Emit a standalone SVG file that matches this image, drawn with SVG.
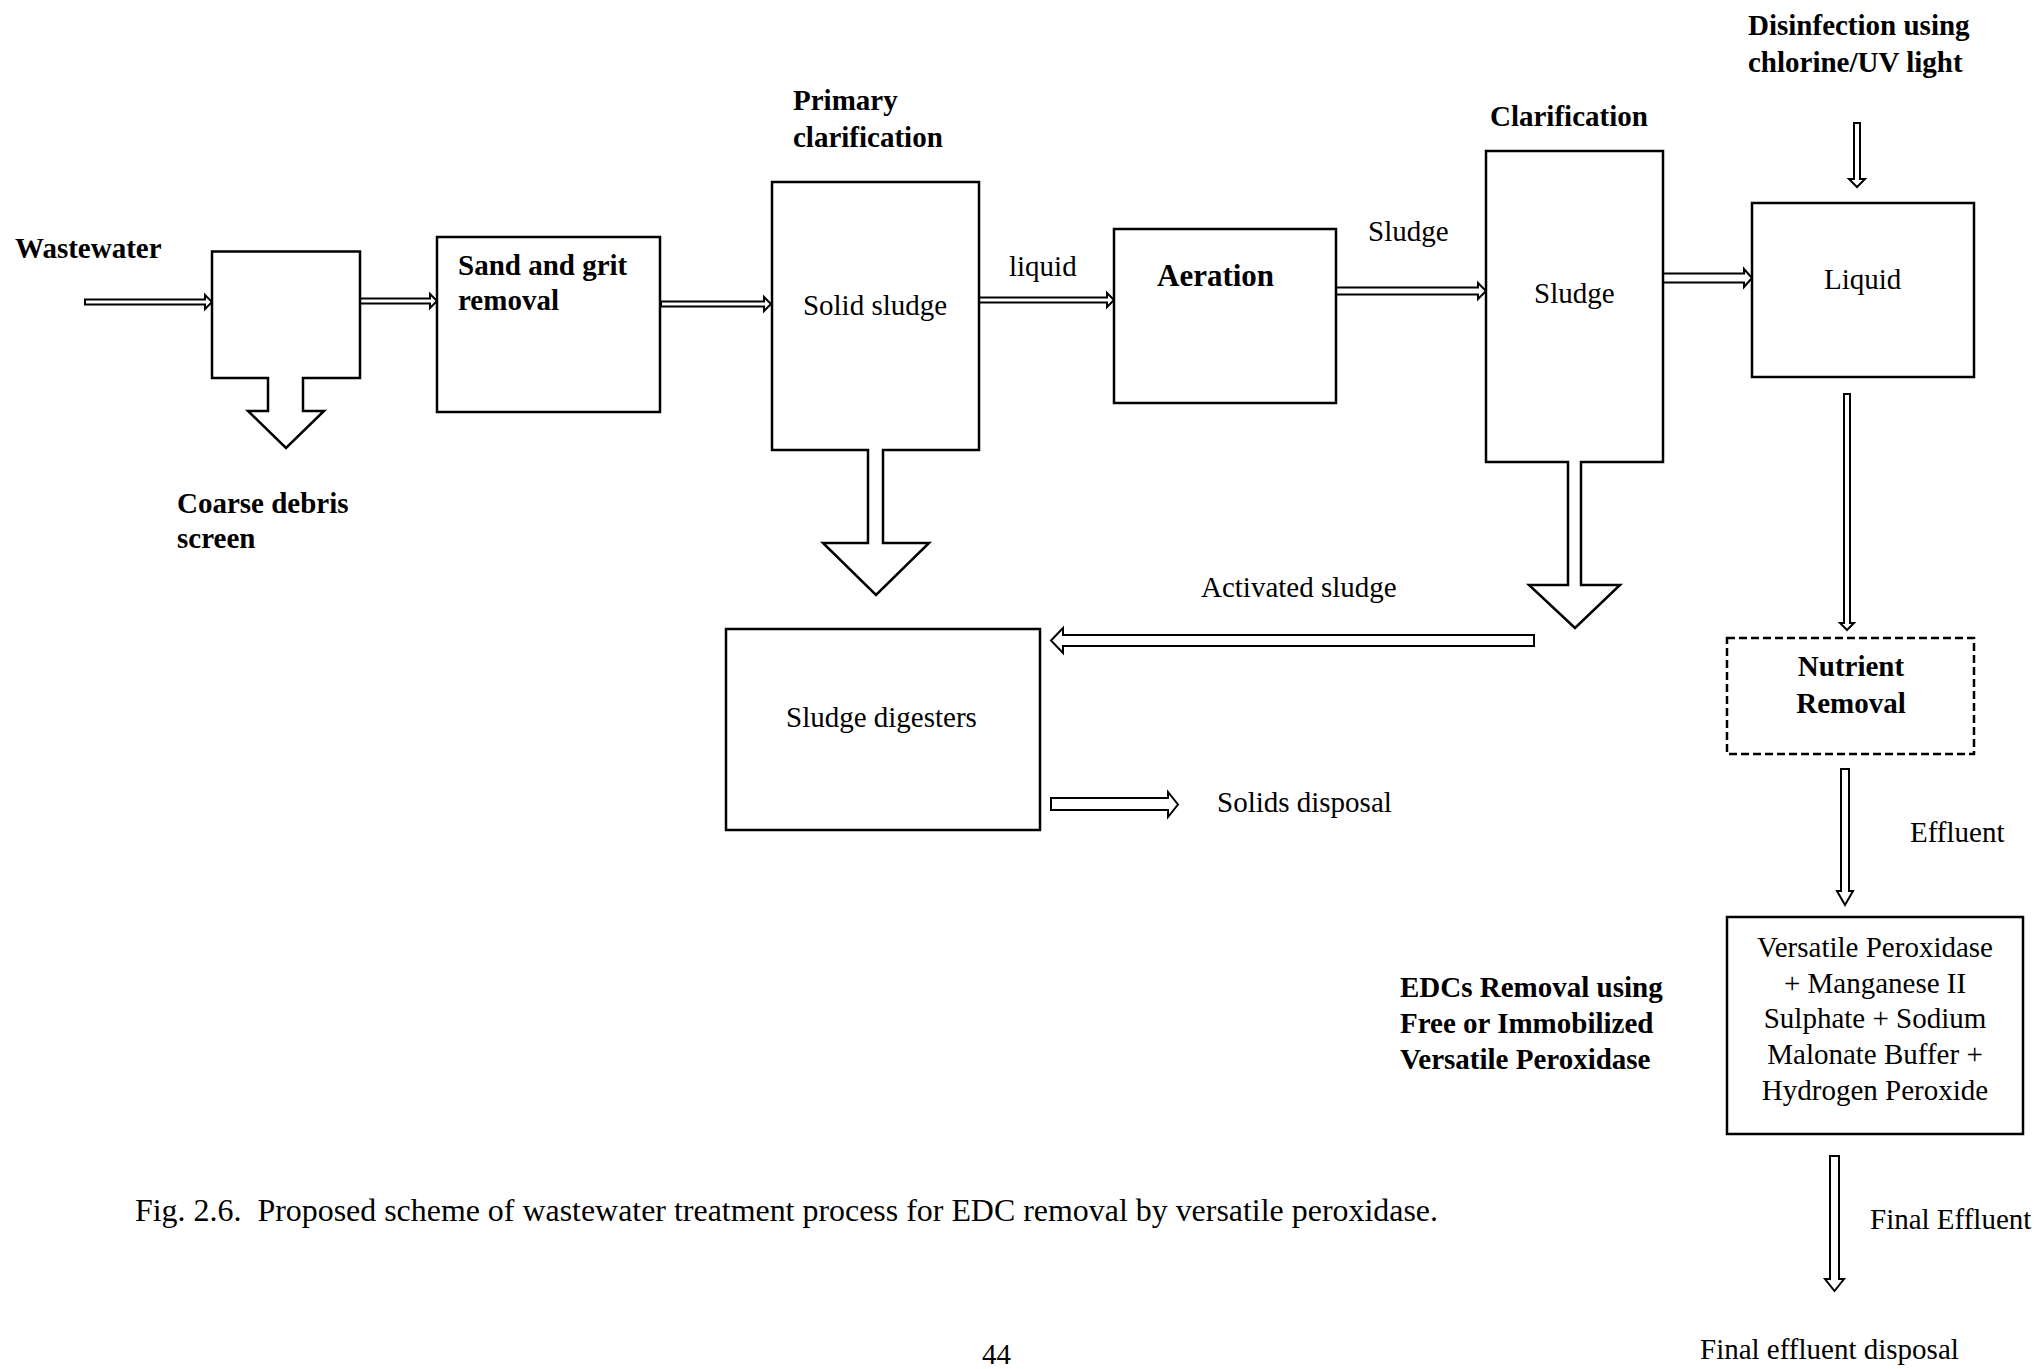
<svg xmlns="http://www.w3.org/2000/svg" width="2039" height="1369" viewBox="0 0 2039 1369">
<style>
.box{fill:#fff;stroke:#000;stroke-width:2.5;stroke-linejoin:miter}
.dash{fill:#fff;stroke:#000;stroke-width:2.5;stroke-dasharray:8 4}
.arr{fill:#fff;stroke:#000;stroke-width:2;stroke-linejoin:miter}
.t{font-family:"Liberation Serif","Times New Roman",serif;font-size:29px;fill:#000}
.b{font-weight:bold}
.c{text-anchor:middle}
</style>
<rect width="2039" height="1369" fill="#fff"/>
<g id="connectors">
<path class="arr" d="M85,299.5 L205,299.5 L205,295 L212,302 L205,309 L205,304.5 L85,304.5 Z"/>
<path class="arr" d="M360,298.5 L430,298.5 L430,294 L437,301 L430,308 L430,303.5 L360,303.5 Z"/>
<path class="arr" d="M661,301.5 L764,301.5 L764,297 L771,304 L764,311 L764,306.5 L661,306.5 Z"/>
<path class="arr" d="M979,297.5 L1107,297.5 L1107,293 L1114,300 L1107,307 L1107,302.5 L979,302.5 Z"/>
<path class="arr" d="M1336,287.5 L1478,287.5 L1478,283 L1486,291 L1478,299 L1478,294.5 L1336,294.5 Z"/>
<path class="arr" d="M1663,273.5 L1744,273.5 L1744,269 L1752,278 L1744,287 L1744,282.5 L1663,282.5 Z"/>
<path class="arr" d="M1854,123 L1854,179 L1849,179 L1857,187 L1865,179 L1860,179 L1860,123 Z"/>
<path class="arr" d="M1844,394 L1844,623 L1840,623 L1847,630 L1854,623 L1850,623 L1850,394 Z"/>
<path class="arr" d="M1841,769 L1841,891 L1837,891 L1845,905 L1853,891 L1849,891 L1849,769 Z"/>
<path class="arr" d="M1830,1156 L1830,1279 L1825,1279 L1834.5,1291 L1844,1279 L1839,1279 L1839,1156 Z"/>
<path class="arr" d="M1534,635 L1063,635 L1063,628 L1051,640.5 L1063,653 L1063,646 L1534,646 Z"/>
<path class="arr" d="M1051,798 L1168,798 L1168,792 L1178,804.5 L1168,817 L1168,810 L1051,810 Z"/>
</g>
<g id="wastewater-label"><text class="t b" x="15" y="258">Wastewater</text></g>
<g id="screen">
<path class="box" d="M212,251.5 L360,251.5 L360,378 L303,378 L303,411 L324,411 L286,448 L248,411 L268,411 L268,378 L212,378 Z"/>
<text class="t b" x="177" y="513">Coarse debris</text>
<text class="t b" x="177" y="548">screen</text>
</g>
<g id="sand-grit">
<rect class="box" x="437" y="237" width="223" height="175"/>
<text class="t b" x="458" y="275">Sand and grit</text>
<text class="t b" x="458" y="310">removal</text>
</g>
<g id="primary-clarification">
<path class="box" d="M772,182 L979,182 L979,450 L883,450 L883,543 L929,543 L876,595 L823,543 L868,543 L868,450 L772,450 Z"/>
<text class="t b" x="793" y="110">Primary</text>
<text class="t b" x="793" y="147">clarification</text>
<text class="t c" x="875" y="315">Solid sludge</text>
</g>
<g id="liquid-label"><text class="t" x="1009" y="276">liquid</text></g>
<g id="aeration">
<rect class="box" x="1114" y="229" width="222" height="174"/>
<text class="t b" x="1157" y="286" style="font-size:31px">Aeration</text>
</g>
<g id="sludge-label"><text class="t" x="1368" y="241">Sludge</text></g>
<g id="clarification">
<path class="box" d="M1486,151 L1663,151 L1663,462 L1581,462 L1581,585 L1620,585 L1575,628 L1529,585 L1568,585 L1568,462 L1486,462 Z"/>
<text class="t b" x="1490" y="126">Clarification</text>
<text class="t" x="1534" y="303">Sludge</text>
</g>
<g id="disinfection-label">
<text class="t b" x="1748" y="35">Disinfection using</text>
<text class="t b" x="1748" y="72">chlorine/UV light</text>
</g>
<g id="liquid">
<rect class="box" x="1752" y="203" width="222" height="174"/>
<text class="t" x="1824" y="289">Liquid</text>
</g>
<g id="activated-sludge-label"><text class="t" x="1201" y="597">Activated sludge</text></g>
<g id="sludge-digesters">
<rect class="box" x="726" y="629" width="314" height="201"/>
<text class="t" x="786" y="727">Sludge digesters</text>
</g>
<g id="solids-disposal-label"><text class="t" x="1217" y="812">Solids disposal</text></g>
<g id="nutrient-removal">
<rect class="dash" x="1727" y="638" width="247" height="116"/>
<text class="t b c" x="1851" y="676">Nutrient</text>
<text class="t b c" x="1851" y="713">Removal</text>
</g>
<g id="effluent-label"><text class="t" x="1910" y="842">Effluent</text></g>
<g id="edc-label">
<text class="t b" x="1400" y="997">EDCs Removal using</text>
<text class="t b" x="1400" y="1033">Free or Immobilized</text>
<text class="t b" x="1400" y="1069">Versatile Peroxidase</text>
</g>
<g id="versatile-peroxidase">
<rect class="box" x="1727" y="917" width="296" height="217"/>
<text class="t c" x="1875" y="957">Versatile Peroxidase</text>
<text class="t c" x="1875" y="993">+ Manganese II</text>
<text class="t c" x="1875" y="1028">Sulphate + Sodium</text>
<text class="t c" x="1875" y="1064">Malonate Buffer +</text>
<text class="t c" x="1875" y="1100">Hydrogen Peroxide</text>
</g>
<g id="final-effluent-label"><text class="t" x="1870" y="1229">Final Effluent</text></g>
<g id="final-disposal-label"><text class="t" x="1700" y="1359">Final effluent disposal</text></g>
<g id="caption">
<text class="t" x="135" y="1221" style="white-space:pre;font-size:31px" textLength="1303" lengthAdjust="spacingAndGlyphs">Fig. 2.6.  Proposed scheme of wastewater treatment process for EDC removal by versatile peroxidase.</text>
<text class="t" x="982" y="1364">44</text>
</g>
</svg>
